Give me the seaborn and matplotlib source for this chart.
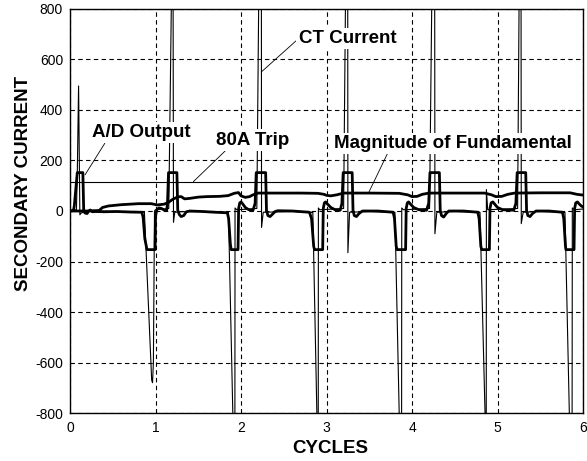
import matplotlib
matplotlib.use('Agg')
import matplotlib.pyplot as plt
import seaborn as sns

# values (x in cycles, y in secondary amps)
ct_cycles = [0.00, 0.04, 0.075, 0.085, 0.10, 0.115, 0.13, 0.20, 0.50, 0.84,
             0.87, 0.955, 0.965, 0.975, 0.988, 1.00, 1.10, 1.155,
             1.19, 1.205, 1.21, 1.225, 1.30, 1.60, 1.84,
             1.853, 1.904, 1.915, 1.928, 1.93, 1.95, 2.10, 2.185,
             2.21, 2.238, 2.24, 2.26, 2.60, 2.83,
             2.84, 2.887, 2.895, 2.903, 2.905, 2.92, 3.10, 3.20,
             3.225, 3.248, 3.25, 3.27, 3.50, 3.79,
             3.80, 3.85, 3.87, 3.878, 3.88, 3.90, 4.10, 4.205,
             4.235, 4.265, 4.268, 4.29, 4.50, 4.785,
             4.795, 4.854, 4.862, 4.868, 4.87, 4.885, 5.10, 5.235,
             5.255, 5.275, 5.278, 5.30, 5.50, 5.78,
             5.789, 5.84, 5.86, 5.872, 5.875, 5.90, 6.00]
ct_current = [0, 3, 5, 150, 495, -15, -8, 0, -2, -5,
              -5, -670, -680, -600, 0, 5, 8, 10,
              950, 950, -45, -5, -3, -2, -6,
              -5, -800, -950, -950, 12, 5, 8, 10,
              950, 950, -65, -5, -2, -6,
              -5, -800, -950, -950, 12, 5, 8, 10,
              950, 950, -165, -5, -2, -6,
              -5, -800, -950, -950, 12, 5, 8, 10,
              950, 950, -90, -5, -2, -6,
              -5, -800, -950, -950, 85, 5, 8, 10,
              950, 950, -50, -5, -2, -6,
              -5, -800, -950, -950, 12, 5, 8]

ad_cycles = [0.00, 0.04, 0.05, 0.085, 0.15, 0.16, 0.175, 0.20, 0.215, 0.235, 0.26, 0.30, 0.40, 0.55, 0.70, 0.84,
             0.855, 0.875, 0.90, 0.995, 1.00, 1.015, 1.04, 1.07, 1.10, 1.13,
             1.14, 1.152, 1.25, 1.26, 1.28, 1.30, 1.33, 1.36, 1.40, 1.55, 1.70, 1.84,
             1.855, 1.875, 1.885, 1.965, 1.972, 1.985, 2.00, 2.02, 2.05, 2.09, 2.14,
             2.165, 2.178, 2.288, 2.298, 2.315, 2.34, 2.37, 2.40, 2.43, 2.60, 2.80,
             2.825, 2.85, 2.86, 2.955, 2.962, 2.975, 2.99, 3.01, 3.05, 3.10, 3.16,
             3.18, 3.195, 3.30, 3.31, 3.325, 3.35, 3.38, 3.42, 3.60, 3.78,
             3.795, 3.815, 3.825, 3.925, 3.932, 3.945, 3.96, 3.98, 4.02, 4.08, 4.17,
             4.195, 4.21, 4.32, 4.33, 4.345, 4.37, 4.40, 4.43, 4.60, 4.77,
             4.785, 4.805, 4.815, 4.905, 4.912, 4.925, 4.945, 4.965, 5.00, 5.06, 5.19,
             5.215, 5.23, 5.33, 5.34, 5.355, 5.38, 5.41, 5.45, 5.60, 5.76,
             5.775, 5.795, 5.80, 5.895, 5.902, 5.915, 5.935, 5.955, 5.98, 6.00]
ad_output = [0, 2, 20, 152, 152, 3, -8, -10, -2, 4, -3, -2, -3, -2, -4, -5,
             -25, -110, -153, -153, -20, 5, 12, 10, 4, 2,
             30, 152, 152, 2, -15, -22, -18, -3, 0, -2, -5, -7,
             -30, -130, -153, -153, 10, 32, 36, 28, 14, 5, 3,
             30, 152, 152, 2, -18, -22, -12, -2, 1, 0, -5,
             -30, -140, -153, -153, 10, 32, 36, 28, 14, 5, 3,
             30, 152, 152, 2, -18, -22, -10, 0, 0, -5,
             -30, -140, -153, -153, 10, 32, 36, 28, 14, 5, 3,
             30, 152, 152, 2, -18, -24, -10, 0, 0, -5,
             -30, -140, -153, -153, 10, 32, 36, 28, 14, 5, 3,
             30, 152, 152, 2, -18, -22, -10, 0, 0, -5,
             -30, -140, -153, -153, 10, 32, 36, 28, 20, 16]

mag_cycles = [0.00, 0.20, 0.34, 0.38, 0.45, 0.60, 0.80, 0.95, 1.02, 1.10, 1.15, 1.20, 1.26, 1.30,
              1.34, 1.40, 1.50, 1.60, 1.75, 1.85, 1.92, 1.97, 2.00, 2.05, 2.10, 2.14, 2.20,
              2.40, 2.70, 2.90, 2.97, 3.00, 3.05, 3.12, 3.20, 3.50, 3.85, 3.95, 4.00, 4.06,
              4.12, 4.20, 4.50, 4.85, 4.93, 4.98, 5.05, 5.12, 5.20, 5.50, 5.85, 5.93, 6.00]
mag_fundamental = [0, 0, 2, 14, 20, 25, 29, 29, 24, 27, 34, 46, 56, 57,
                   48, 50, 55, 57, 58, 61, 70, 73, 60, 54, 57, 64, 71,
                   71, 71, 70, 66, 62, 60, 64, 71, 71, 70, 64, 57, 58,
                   66, 71, 71, 71, 64, 57, 58, 66, 71, 72, 72, 66, 63]

trip_level = 113
x_ticks = [0, 1, 2, 3, 4, 5, 6]
y_ticks = [-800, -600, -400, -200, 0, 200, 400, 600, 800]

sns.set_style('white')
plt.rcParams['font.family'] = ['Liberation Sans', 'DejaVu Sans']
plt.rcParams['axes.unicode_minus'] = False

fig = plt.figure(figsize=(5.87, 4.61), dpi=100)
ax = fig.add_axes([0.1193, 0.1041, 0.8739, 0.8764])

sns.lineplot(x=ct_cycles, y=ct_current, ax=ax, color='black', linewidth=0.8,
             sort=False, estimator=None)
sns.lineplot(x=ad_cycles, y=ad_output, ax=ax, color='black', linewidth=2.0,
             sort=False, estimator=None)
sns.lineplot(x=mag_cycles, y=mag_fundamental, ax=ax, color='black', linewidth=2.0,
             sort=False, estimator=None)
ax.axhline(trip_level, color='black', linewidth=0.8)

ax.set_xlim(0, 6)
ax.set_ylim(-800, 800)
ax.set_xticks(x_ticks)
ax.set_yticks(y_ticks)
ax.grid(True, color='black', linestyle=(0, (4, 3)), linewidth=0.8)
ax.tick_params(length=0, labelsize=10, colors='black')
ax.tick_params(axis='x', pad=6)
ax.tick_params(axis='y', pad=5)
for s in ax.spines.values():
    s.set_color('black')
    s.set_linewidth(1.0)

ax.set_xlabel('CYCLES', fontsize=13.5, fontweight='bold', color='black')
ax.set_ylabel('SECONDARY CURRENT', fontsize=13.5, fontweight='bold', color='black',
              ha='center', va='center', rotation_mode='anchor')
ax.xaxis.set_label_coords(0.507, -0.067)
ax.yaxis.set_label_coords(-0.091, 0.569)

box = dict(boxstyle='square,pad=0.12', fc='white', ec='none')
notes = [
    ('CT Current', (2.242, 552), (3.245, 683), (0, 0.5)),
    ('A/D Output', (0.175, 143), (0.839, 311), (0.14, 0)),
    ('80A Trip', (1.442, 116), (2.135, 281), (0.16, 0)),
    ('Magnitude of Fundamental', (3.489, 70), (4.474, 268), (0.23, 0)),
]
for label, xy, xytext, rel in notes:
    ax.annotate(label, xy=xy, xytext=xytext, ha='center', va='center',
                fontsize=13.5, fontweight='bold', color='black', bbox=box,
                arrowprops=dict(arrowstyle='-', color='black', lw=0.6,
                                relpos=rel, shrinkA=0, shrinkB=0))

fig.savefig('out.png', dpi=100)
